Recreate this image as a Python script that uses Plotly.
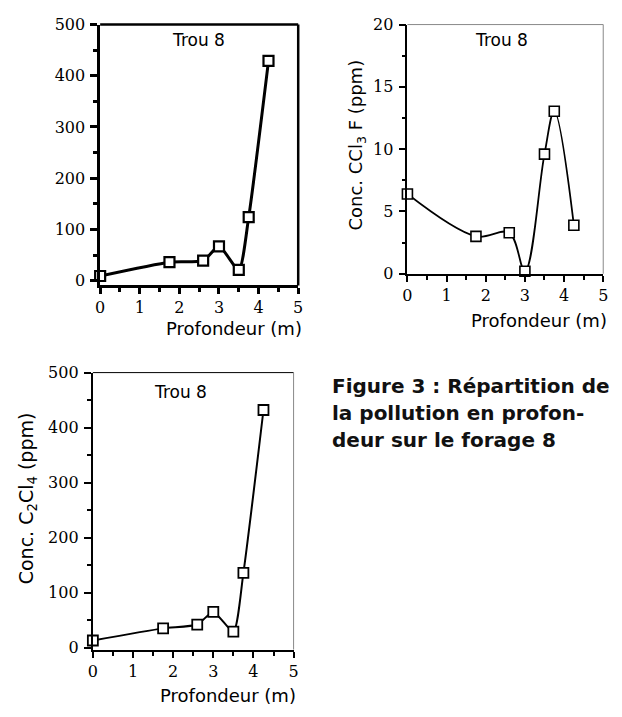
import plotly.graph_objects as go

W, H = 622, 717

# Data (depth in m, concentration in ppm)
depth_1 = [0, 1.75, 2.6, 3.0, 3.5, 3.75, 4.25]
conc_1 = [9, 36, 39, 67, 21, 124, 429]

depth_2 = [0, 1.75, 2.6, 3.0, 3.5, 3.75, 4.25]
conc_ccl3f = [6.4, 3.0, 3.3, 0.2, 9.6, 13.05, 3.9]

depth_3 = [0, 1.75, 2.6, 3.0, 3.5, 3.75, 4.25]
conc_c2cl4 = [13, 35, 42, 65, 29, 136, 432]

x_ticks = [0, 1, 2, 3, 4, 5]
y_ticks_1 = [0, 100, 200, 300, 400, 500]
y_ticks_2 = [0, 5, 10, 15, 20]
y_ticks_3 = [0, 100, 200, 300, 400, 500]

title_text = "Trou 8"
x_title = "Profondeur (m)"
y_title_2 = "Conc. CCl<sub>3</sub> F (ppm)"
y_title_3 = "Conc. C<sub>2</sub>Cl<sub>4</sub> (ppm)"
caption = ["Figure 3 : Répartition de", "la pollution en profon-", "deur sur le forage 8"]

def px_x(p):
    return p / W

def px_y(p):
    return 1 - p / H

SERIF = "DejaVu Serif"
SANS = "DejaVu Sans"

fig = go.Figure()

def add_series(x, y, xa, ya, lw, msize, mlw, smooth):
    fig.add_trace(go.Scatter(
        x=x, y=y, xaxis=xa, yaxis=ya, mode="lines+markers",
        line=dict(color="black", width=lw, shape="spline", smoothing=smooth),
        marker=dict(symbol="square", size=msize, color="white",
                    line=dict(color="black", width=mlw)),
        showlegend=False, cliponaxis=False,
    ))

add_series(depth_1, conc_1, "x", "y", 3, 10, 2.2, 0.6)
add_series(depth_2, conc_ccl3f, "x2", "y2", 1.8, 10, 1.6, 1.0)
add_series(depth_3, conc_c2cl4, "x3", "y3", 2, 10, 1.8, 0.6)

def xaxis(dom, lw, anchor):
    return dict(domain=dom, range=[0, 5], tickvals=x_ticks, ticks="outside",
                ticklen=6, tickwidth=lw, tickcolor="black", showline=True,
                linecolor="black", linewidth=lw, showgrid=False, zeroline=False,
                anchor=anchor, fixedrange=True,
                tickfont=dict(family=SERIF, size=16, color="black"),
                minor=dict(ticks="outside", dtick=0.5, ticklen=4, tickwidth=lw,
                           tickcolor="black", showgrid=False))

def yaxis(dom, rng, tv, minor_dt, lw, anchor):
    return dict(domain=dom, range=rng, tickvals=tv, ticks="outside",
                ticklen=7, tickwidth=lw, tickcolor="black", showline=True,
                linecolor="black", linewidth=lw, showgrid=False, zeroline=False,
                anchor=anchor, fixedrange=True, ticklabelstandoff=2,
                tickfont=dict(family=SERIF, size=16, color="black"),
                minor=dict(ticks="outside", dtick=minor_dt, ticklen=4,
                           tickwidth=lw, tickcolor="black", showgrid=False))

d1x = [px_x(96.7), px_x(298)]
d1y = [px_y(284), px_y(16)]
d2x = [px_x(409), px_x(608)]
d2y = [px_y(272), px_y(16)]
d3x = [px_x(89.3), px_x(293.3)]
d3y = [px_y(658), px_y(373.5)]

fig.update_layout(
    width=W, height=H, margin=dict(l=0, r=0, t=0, b=0),
    paper_bgcolor="white", plot_bgcolor="white",
    xaxis=xaxis(d1x, 2.5, "y"),
    yaxis=yaxis(d1y, [-9.5, 500], y_ticks_1, 50, 2.5, "x"),
    xaxis2=xaxis(d2x, 1.5, "y2"),
    yaxis2=yaxis(d2y, [0, 20], y_ticks_2, 2.5, 1.5, "x2"),
    xaxis3=xaxis(d3x, 2, "y3"),
    yaxis3=yaxis(d3y, [-3.5, 500], y_ticks_3, 50, 2, "x3"),
)

# Frame borders (top and right) for each panel
borders = [
    ("x", "y", "black", 2.5, "black", 2.5),
    ("x2", "y2", "#888888", 1, "#888888", 1),
    ("x3", "y3", "black", 1, "#888888", 1),
]
for xa, ya, ct, wt, cr, wr in borders:
    fig.add_shape(type="line", xref=f"{xa} domain", yref=f"{ya} domain",
                  x0=0, x1=1, y0=1, y1=1, line=dict(color=ct, width=wt))
    fig.add_shape(type="line", xref=f"{xa} domain", yref=f"{ya} domain",
                  x0=1, x1=1, y0=0, y1=1, line=dict(color=cr, width=wr))

ann = []
# "Trou 8" labels
for cx, cy in [(197, 32), (505, 32), (178, 393)]:
    ann.append(dict(text=title_text, x=px_x(cx), y=px_y(cy), xref="paper", yref="paper",
                    showarrow=False, xanchor="center", yanchor="middle",
                    font=dict(family=SANS, size=17, color="black")))
# x titles
for cx, cy in [(233, 328), (543, 320), (227, 705)]:
    ann.append(dict(text=x_title, x=px_x(cx), y=px_y(cy), xref="paper", yref="paper",
                    showarrow=False, xanchor="center", yanchor="middle",
                    font=dict(family=SANS, size=18, color="black")))
# y titles
for txt, cx, cy, fs in [(y_title_2, 358, 140, 18), (y_title_3, 23, 503, 19)]:
    ann.append(dict(text=txt, x=px_x(cx), y=px_y(cy), xref="paper", yref="paper",
                    showarrow=False, xanchor="center", yanchor="middle", textangle=-90,
                    font=dict(family=SANS, size=fs, color="black")))
# caption
for i, line in enumerate(caption):
    ann.append(dict(text=f"<b>{line}</b>", x=px_x(330), y=px_y(387 + 28 * i),
                    xref="paper", yref="paper", showarrow=False,
                    xanchor="left", yanchor="middle",
                    font=dict(family=SANS, size=20, color="#111111")))

fig.update_layout(annotations=ann)

fig.write_html("out.html", config={"displayModeBar": False},
               post_script="document.body.style.margin='0';document.body.style.overflow='hidden';")
